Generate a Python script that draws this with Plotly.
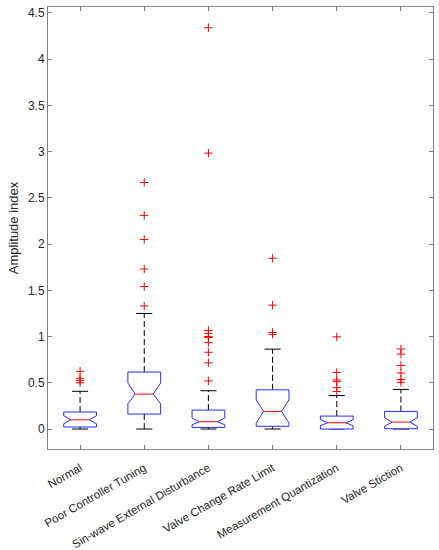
import plotly.graph_objects as go

categories = ["Normal", "Poor Controller Tuning", "Sin-wave External Disturbance",
              "Valve Change Rate Limit", "Measurement Quantization", "Valve Stiction"]

# box statistics
q1 = [0.022, 0.162, 0.017, 0.030, 0.000, 0.003]
median = [0.100, 0.378, 0.079, 0.190, 0.068, 0.075]
q3 = [0.184, 0.616, 0.205, 0.424, 0.140, 0.190]
notch_lo = [0.057, 0.273, 0.046, 0.065, 0.036, 0.030]
notch_hi = [0.144, 0.497, 0.119, 0.316, 0.100, 0.122]
whisker_lo = [0.0, 0.0, 0.0, 0.0, 0.0, 0.0]
whisker_hi = [0.408, 1.250, 0.414, 0.864, 0.362, 0.428]
outliers = [
    [0.624, 0.549, 0.527, 0.500],
    [2.667, 2.310, 2.050, 1.730, 1.540, 1.330],
    [4.340, 2.984, 1.065, 1.035, 1.000, 0.990, 0.935, 0.830, 0.716, 0.520],
    [1.847, 1.340, 1.045, 1.025],
    [0.997, 0.612, 0.530, 0.512, 0.448, 0.406],
    [0.866, 0.810, 0.688, 0.606, 0.535, 0.505],
]

half_w = 0.255   # half box width
notch_w = 0.14   # half width at the median
cap_w = 0.125    # half whisker-cap width

fig = go.Figure()

for i, name in enumerate(categories):
    c = i + 1
    # whiskers
    for a, b in [(q3[i], whisker_hi[i]), (whisker_lo[i], q1[i])]:
        fig.add_trace(go.Scatter(x=[c, c], y=[a, b], mode="lines",
                                 line=dict(color="black", width=1, dash="6px,3px"),
                                 showlegend=False, hoverinfo="skip"))
    for v in [whisker_hi[i], whisker_lo[i]]:
        fig.add_trace(go.Scatter(x=[c - cap_w, c + cap_w], y=[v, v], mode="lines",
                                 line=dict(color="black", width=1),
                                 showlegend=False, hoverinfo="skip"))
    # notched box
    bx = [c - half_w, c - half_w, c - notch_w, c - half_w, c - half_w,
          c + half_w, c + half_w, c + notch_w, c + half_w, c + half_w, c - half_w]
    by = [q1[i], notch_lo[i], median[i], notch_hi[i], q3[i],
          q3[i], notch_hi[i], median[i], notch_lo[i], q1[i], q1[i]]
    fig.add_trace(go.Scatter(x=bx, y=by, mode="lines", fill="toself", fillcolor="white",
                             line=dict(color="#2b2bff", width=1),
                             showlegend=False, name=name))
    fig.add_trace(go.Scatter(x=[c - notch_w, c + notch_w], y=[median[i], median[i]],
                             mode="lines", line=dict(color="red", width=1),
                             showlegend=False, hoverinfo="skip"))
    fig.add_trace(go.Scatter(x=[c] * len(outliers[i]), y=outliers[i], mode="markers",
                             marker=dict(symbol="cross-thin", size=6,
                                         line=dict(color="red", width=1)),
                             showlegend=False))

axis_style = dict(showline=True, linecolor="#808080", linewidth=1, mirror="ticks",
                  ticks="inside", ticklen=4, tickcolor="#808080", showgrid=False,
                  zeroline=False, automargin=False,
                  tickfont=dict(size=12, color="#262626"))

fig.update_xaxes(range=[0.5, 6.5], tickvals=list(range(1, 7)), ticktext=categories,
                 tickangle=-30, ticklabelstandoff=7, **axis_style)
fig.update_xaxes(tickfont_size=11.5)
fig.update_yaxes(range=[-0.216, 4.564], tickvals=[0, 0.5, 1, 1.5, 2, 2.5, 3, 3.5, 4, 4.5],
                 title=dict(text="Amplitude index", font=dict(size=13, color="#262626"),
                            standoff=6),
                 **axis_style)

fig.update_layout(width=439, height=550, plot_bgcolor="white", paper_bgcolor="white",
                  font=dict(family="Liberation Sans, Arial, sans-serif"),
                  margin=dict(l=48, r=6, t=7, b=101))

# the page's default body margin would shift the figure by 8px
fig.write_html("out.html", config={"displayModeBar": False},
               post_script="document.body.style.margin='0';")
